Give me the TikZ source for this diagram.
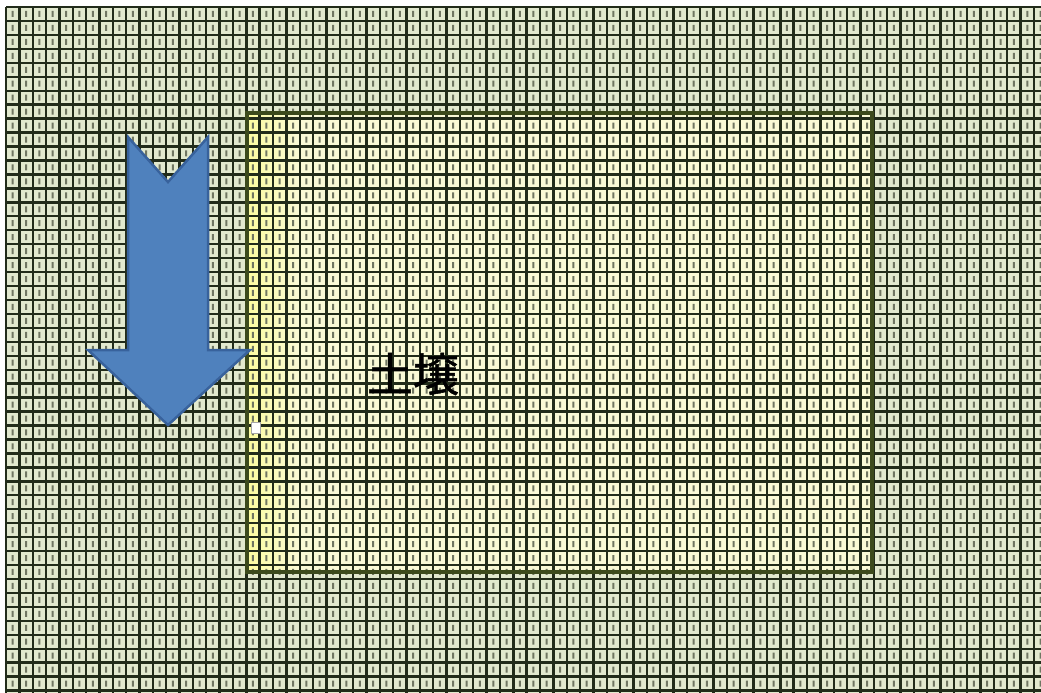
\documentclass[tikz,border=0pt]{standalone}
\usepackage{fontspec}
\newfontfamily\cjk[FakeBold=1.2]{Noto Sans CJK JP}
\definecolor{cellout}{RGB}{226,233,206}
\definecolor{cellin}{RGB}{250,250,214}
\definecolor{gridline}{RGB}{34,44,26}
\definecolor{dotc}{RGB}{112,118,98}
\definecolor{boxborder}{RGB}{60,74,28}
\definecolor{arrowfill}{RGB}{79,129,189}
\definecolor{arrowedge}{RGB}{56,98,156}
\tikzset{
  gridpen/.style={draw=gridline, line width=2.4pt},
  soilbox/.style={draw=boxborder, line width=3.5pt},
  bigarrow/.style={fill=arrowfill, draw=arrowedge, line width=2.5pt, line join=miter},
  soiltext/.style={font=\cjk\fontsize{46}{46}\selectfont, text=black, inner sep=0pt}
}
\begin{document}
\begin{tikzpicture}[x=1pt,y=-1pt]
\useasboundingbox (0,0) rectangle (1041,693);
\fill[white] (0,0) rectangle (1041,693);
% cells
\fill[cellout] (6,7) rectangle (1041,693);
\shade[left color=cellin!70!yellow!90, right color=cellin] (247,113) rectangle (300,572);
\fill[cellin] (300,113) rectangle (872,572);
% dots in the cells
\fill[dotc] \foreach \i in {0,...,77}{ \foreach \j in {0,...,49}{
  ({6+13.35*(\i+0.5)-1},{7+13.95*(\j+0.5)-3}) rectangle ++(2,6) } };
% grid lines
\draw[gridpen] \foreach \i in {0,...,77}{ ({6+13.35*\i},7) -- ({6+13.35*\i},693) }
               \foreach \j in {0,...,49}{ (6,{7+13.95*\j}) -- (1041,{7+13.95*\j}) };
% soil box
\draw[soilbox] (247,113) rectangle (872,572);
\node[soiltext] (soil) at (413,374) {土壌};
% arrow
\draw[bigarrow] (128,137) -- (168,182) -- (208,137) -- (208,350) -- (250,350)
   -- (168,425) -- (88,350) -- (128,350) -- cycle;
% small paste icon
\node[draw=gray!70, fill=white, line width=0.8pt, minimum width=9pt, minimum height=11pt, inner sep=0pt] (icon) at (256,428) {};
\end{tikzpicture}
\end{document}
